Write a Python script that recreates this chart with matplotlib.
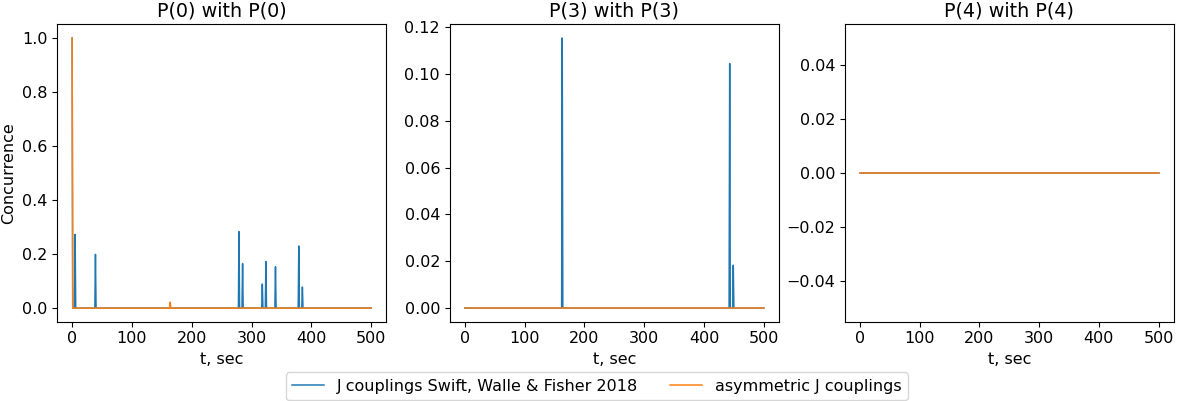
import numpy as np
import matplotlib
matplotlib.use("Agg")
import matplotlib.pyplot as plt

# time axis (sec) and spike events
t = np.arange(0, 501, 1)

# P(0) with P(0)
p0_blue_t = [0, 5, 39, 279, 285, 318, 324, 340, 379, 385]
p0_blue_h = [1.0, 0.273, 0.199, 0.283, 0.165, 0.089, 0.172, 0.153, 0.23, 0.078]
p0_orange_t = [0, 164]
p0_orange_h = [1.0, 0.022]

# P(3) with P(3)
p3_blue_t = [163, 443, 449]
p3_blue_h = [0.1154, 0.1045, 0.0183]
p3_orange_t = []
p3_orange_h = []

# P(4) with P(4): all zero
p4_blue_t = []
p4_blue_h = []
p4_orange_t = []
p4_orange_h = []

titles = ["P(0) with P(0)", "P(3) with P(3)", "P(4) with P(4)"]
labels = ["J couplings Swift, Walle & Fisher 2018", "asymmetric J couplings"]


def series(times, heights):
    y = np.zeros(len(t))
    for ti, hi in zip(times, heights):
        y[ti] = hi
    return y


plt.rcParams['font.size'] = 11.5

fig = plt.figure(figsize=(11.79, 4.01), dpi=100)
lefts = [0.0485, 0.3815, 0.7165]
data = [(p0_blue_t, p0_blue_h, p0_orange_t, p0_orange_h),
        (p3_blue_t, p3_blue_h, p3_orange_t, p3_orange_h),
        (p4_blue_t, p4_blue_h, p4_orange_t, p4_orange_h)]
for i, (bt, bh, ot, oh) in enumerate(data):
    ax = fig.add_axes([lefts[i], 0.198, 0.279, 0.741])
    ax.plot(t, series(bt, bh), color='C0', linewidth=1.08, label=labels[0])
    ax.plot(t, series(ot, oh), color='C1', linewidth=1.08, label=labels[1])
    ax.set_title(titles[i])
    ax.set_xlabel('t, sec')
    ax.set_xticks([0, 100, 200, 300, 400, 500])
    if i == 0:
        ax.set_ylabel('Concurrence')
        ax.set_yticks([0.0, 0.2, 0.4, 0.6, 0.8, 1.0])

handles, labs = ax.get_legend_handles_labels()
fig.legend(handles, labs, loc='lower center', ncol=2,
           bbox_to_anchor=(0.506, 0.0), borderaxespad=0.05)

plt.savefig('out.png', dpi=100)
